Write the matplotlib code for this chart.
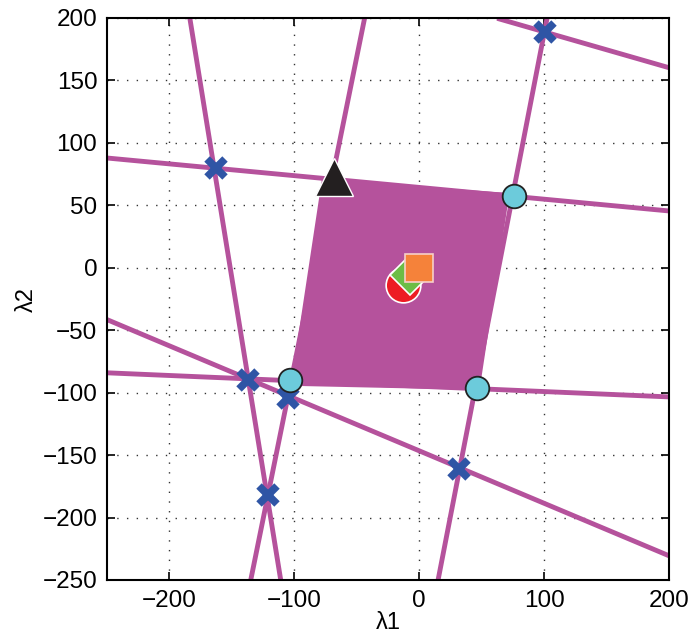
import numpy as np
import matplotlib
matplotlib.use('Agg')
import matplotlib.pyplot as plt

plt.rcParams['font.family'] = ['Liberation Sans', 'DejaVu Sans']

# constraint lines, each given by two points (lambda1, lambda2)
line_start_x = [-183.7, -134.9, 15.1, 64.3, -250, -250, -250]
line_start_y = [200, -250, -250, 199.2, 87.9, -84.1, -41.5]
line_end_x = [-110.9, -43.7, 102.4, 200, 200, 200, 200]
line_end_y = [-250, 200, 200, 160.2, 45.5, -103.4, -230.6]

# feasible region corners
region_x = [-78, 72.3, 48.3, -102.9]
region_y = [70.3, 59.9, -97.8, -94.5]

# blue crosses (line intersections)
cross_x = [-163, 101, -137, -105, -121, 32]
cross_y = [80, 189, -90, -104, -182, -161]

# cyan circles (region vertices)
vert_x = [75.5, -103.7, 46]
vert_y = [57.5, -89.8, -96]

tri_x, tri_y = -68.5, 72.7
red_x, red_y = -13, -14
green_x, green_y = -7.7, -5.6
sq_x, sq_y = 0, 0

purple = '#b5529c'

fig = plt.figure(figsize=(6.89, 6.38), dpi=100)
ax = fig.add_axes([107 / 689, 1 - 580 / 638, 562 / 689, 562 / 638])

for x1, y1, x2, y2 in zip(line_start_x, line_start_y, line_end_x, line_end_y):
    ax.plot([x1, x2], [y1, y2], color=purple, lw=3.5, zorder=2)

ax.fill(region_x, region_y, color=purple, lw=0, zorder=3)

ax.plot(cross_x, cross_y, 'x', color='#2f55a5', ms=13, mew=5.5, zorder=5)
ax.plot(vert_x, vert_y, 'o', color='#6ccbdb', mec='#222222', mew=1.3, ms=17, zorder=6)
ax.plot(tri_x, tri_y, '^', color='#231f20', mec='white', mew=1, ms=28, zorder=6)
ax.plot(red_x, red_y, 'o', color='#ed1c24', mec='white', mew=1.2, ms=25, zorder=6)
ax.plot(green_x, green_y, 'D', color='#6cbd45', mec='white', mew=1.2, ms=20, zorder=7)
ax.plot(sq_x, sq_y, 's', color='#f5823a', mec='#f7d0c8', mew=1.2, ms=20, zorder=8)

ax.set_xlim(-250, 200)
ax.set_ylim(-250, 200)
ax.set_xticks([-200, -100, 0, 100, 200])
ax.set_yticks(np.arange(-250, 201, 50))
ax.grid(True, linestyle=(0, (1, 6)), color='#333333', lw=1)
ax.set_axisbelow(True)
ax.tick_params(direction='in', top=True, right=True, length=6, width=1.2, labelsize=17.5, pad=7)
for s in ax.spines.values():
    s.set_linewidth(1.5)
ax.set_xlabel('λ1', fontsize=17, labelpad=0)
ax.set_ylabel('λ2', fontsize=17, labelpad=3)

fig.savefig('out.png', dpi=100)
